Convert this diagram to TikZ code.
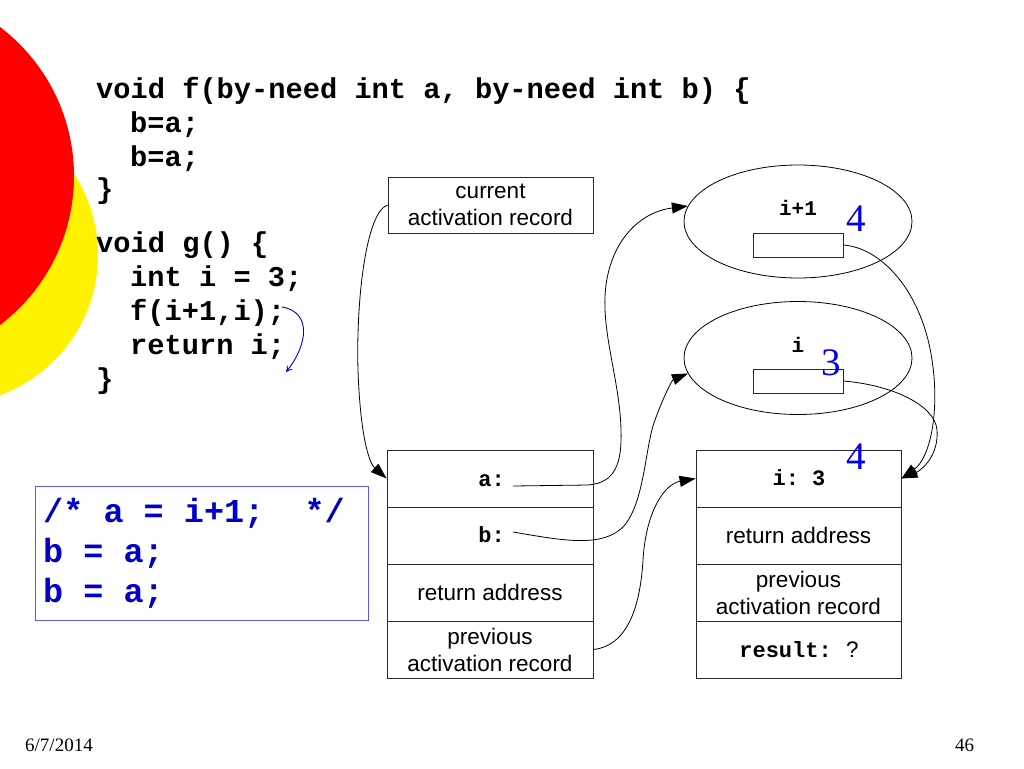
\documentclass[tikz,border=0pt]{standalone}
\usepackage{fontspec}
\setmainfont{Liberation Serif}
\setsansfont{Liberation Sans}
\setmonofont{Liberation Mono}
\usetikzlibrary{arrows.meta,shapes.geometric}
\definecolor{codeblue}{RGB}{0,0,205}
\definecolor{numblue}{RGB}{0,0,240}
\definecolor{boxblue}{RGB}{90,90,225}
\definecolor{linegray}{RGB}{40,40,40}
\tikzset{
  codef/.style={font=\ttfamily\bfseries\fontsize{28.7}{34}\selectfont, inner sep=0pt, anchor=base west},
  bluecode/.style={font=\ttfamily\bfseries\fontsize{33.5}{40}\selectfont, text=codeblue, inner sep=0pt, anchor=base west},
  rowbox/.style={draw=linegray, line width=0.8pt, minimum width=206pt, minimum height=57pt, inner sep=0pt,
     font=\sffamily\fontsize{22.5}{27}\selectfont, align=center},
  monof/.style={font=\ttfamily\bfseries\fontsize{22}{26}\selectfont, inner sep=0pt},
  sansf/.style={font=\sffamily\fontsize{22.5}{27}\selectfont, inner sep=0pt},
  bignum/.style={font=\rmfamily\fontsize{39}{40}\selectfont, text=numblue, inner sep=0pt},
  ell/.style={draw=black, line width=0.8pt, ellipse, minimum width=228pt, minimum height=113pt, inner sep=0pt},
  cell/.style={draw=linegray, line width=0.8pt, minimum width=90pt, minimum height=24pt, inner sep=0pt},
  conn/.style={draw=black, line width=0.8pt, -{Triangle[length=16pt,width=11pt]}},
  foot/.style={font=\rmfamily\fontsize{19}{20}\selectfont, inner sep=0pt, anchor=base west}
}
\frenchspacing
\begin{document}
\begin{tikzpicture}[x=1pt,y=-1pt]
\useasboundingbox (0,0) rectangle (1024,768);
\fill[white] (0,0) rectangle (1024,768);
\begin{scope}
\clip (0,0) rectangle (1024,768);
\fill[yellow] (-51,255) circle[radius=149pt];
\fill[red] (-113,176) circle[radius=187pt];
\end{scope}

% code
\node[codef] (c1) at (96,98) {void f(by-need int a, by-need int b) \{};
\node[codef] (c2) at (130,132) {b=a;};
\node[codef] (c3) at (130,166) {b=a;};
\node[codef] (c4) at (96,198) {\}};
\node[codef] (c5) at (96,252) {void g() \{};
\node[codef] (c6) at (130,286) {int i = 3;};
\node[codef] (c7) at (130,320) {f(i+1,i);};
\node[codef] (c8) at (130,354) {return i;};
\node[codef] (c9) at (96,388) {\}};

\coordinate (bs) at (282,307);
\coordinate (be) at (286,372);
\draw[codeblue, line width=0.9pt, -{To[length=6pt,width=7pt]}] (bs) .. controls (312,312) and (308,345) .. (be);

% blue box
\node[draw=boxblue, line width=1pt, minimum width=333pt, minimum height=134pt, inner sep=0pt] (bb) at (201.5,553) {};
\node[bluecode] (b1) at (43,522) {/* a = i+1;\ \ */};
\node[bluecode] (b2) at (43,562) {b = a;};
\node[bluecode] (b3) at (43,602) {b = a;};

% current activation record
\node[rowbox, minimum width=205pt, minimum height=56pt] (cur) at (490.5,205) {current\\activation record};

% left stack
\node[rowbox] (l1) at (490,478.5) {};
\node[rowbox] (l2) at (490,535.5) {};
\node[rowbox] (l3) at (490,592.5) {return address};
\node[rowbox] (l4) at (490,649.5) {previous\\activation record};
\node[monof, anchor=base east] (la) at (505,486) {a:};
\node[monof, anchor=base east] (lb) at (505,542) {b:};
\coordinate (as) at (513,486);
\coordinate (bstart) at (513,532);

% right stack
\node[rowbox, minimum width=205pt] (r1) at (798.5,478.5) {};
\node[rowbox, minimum width=205pt] (r2) at (798.5,535.5) {return address};
\node[rowbox, minimum width=205pt] (r3) at (798.5,592.5) {previous\\activation record};
\node[rowbox, minimum width=205pt] (r4) at (798.5,649.5) {};
\node[monof, anchor=base] (ri) at (799,485) {i: 3};
\node[monof, anchor=base east] (rres) at (832,657) {result:};
\node[sansf, anchor=base west] (rq) at (846,657) {?};
\node[bignum] (n4b) at (856,457) {4};

% ellipses
\node[ell] (e1) at (798,221.5) {};
\node[cell] (x1) at (798,245) {};
\node[monof, anchor=base, font=\ttfamily\bfseries\fontsize{21}{24}\selectfont] (t1) at (798,215) {i+1};
\node[bignum] (n4) at (856,219) {4};

\node[ell] (e2) at (798,358) {};
\node[cell] (x2) at (798,381) {};
\node[monof, anchor=base, font=\ttfamily\bfseries\fontsize{21}{24}\selectfont] (t2) at (798,352) {i};
\node[bignum] (n3) at (831,363) {3};

% connectors
\draw[conn] (cur.west) .. controls (366,212) and (356,300) .. (358,370) .. controls (360,430) and (368,462) .. (l1.west);
\draw[conn] (as) -- (588,485) .. controls (616,483) and (622,462) .. (621,430) .. controls (620,380) and (600,330) .. (606,285) .. controls (612,240) and (640,212) .. (e1.172);
\draw[conn] (bstart) .. controls (560,540) and (600,548) .. (622,528) .. controls (645,505) and (645,445) .. (655,420) .. controls (663,398) and (672,380) .. (e2.188);
\draw[conn] (l4.east) .. controls (626,646) and (640,610) .. (643,560) .. controls (646,510) and (665,484) .. (r1.west);
\draw[conn] (x1.east) .. controls (882,248) and (922,292) .. (932,360) .. controls (940,412) and (930,458) .. (r1.east);
\draw[conn] (x2.east) .. controls (892,385) and (935,405) .. (937,430) .. controls (939,455) and (922,470) .. (r1.east);

% footer
\node[foot] (date) at (25,751) {6/7/2014};
\node[foot] (page) at (955,751) {46};
\end{tikzpicture}
\end{document}
